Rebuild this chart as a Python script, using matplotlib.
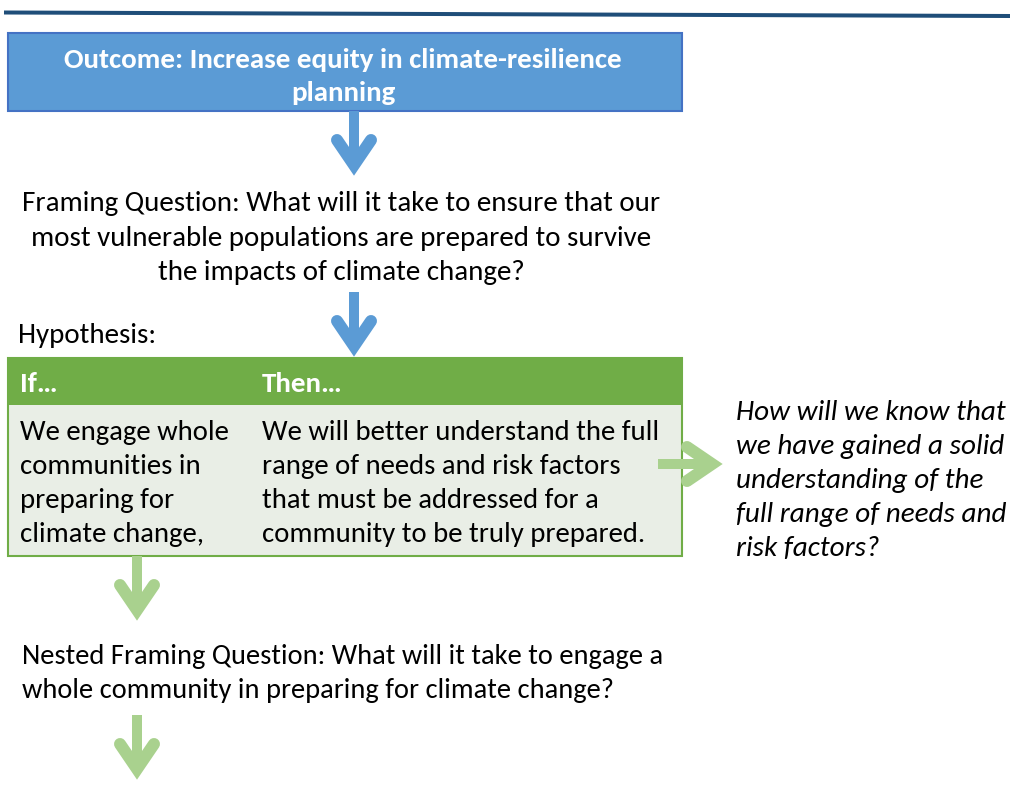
import matplotlib
matplotlib.use("Agg")
import matplotlib.pyplot as plt
from matplotlib import font_manager
from matplotlib.patches import Rectangle

# ---------------- content ----------------
outcome_lines = ["Outcome: Increase equity in climate-resilience", "planning"]
framing_lines = ["Framing Question: What will it take to ensure that our",
                 "most vulnerable populations are prepared to survive",
                 "the impacts of climate change?"]
hypothesis_label = "Hypothesis:"
header_labels = ["If…", "Then…"]
if_lines = ["We engage whole", "communities in", "preparing for", "climate change,"]
then_lines = ["We will better understand the full", "range of needs and risk factors",
              "that must be addressed for a", "community to be truly prepared."]
question_lines = ["How will we know that", "we have gained a solid",
                  "understanding of the", "full range of needs and", "risk factors?"]
nested_lines = ["Nested Framing Question: What will it take to engage a",
                "whole community in preparing for climate change?"]

# ---------------- style ----------------
W, H = 1010, 789
BLUE_FILL = "#5B9BD5"
BLUE_EDGE = "#4472C4"
BLUE_ARROW = "#5B9BD5"
GREEN_HEAD = "#70AD47"
GREEN_BODY = "#E9EEE6"
GREEN_ARROW = "#A9D18E"
DARK_LINE = "#1F4E79"

avail = {f.name for f in font_manager.fontManager.ttflist}
FONT = next((f for f in ["Carlito", "Lato", "Open Sans", "DejaVu Sans"] if f in avail), "DejaVu Sans")

fig = plt.figure(figsize=(W / 100, H / 100), dpi=100)
ax = fig.add_axes([0, 0, 1, 1])
ax.set_xlim(0, W)
ax.set_ylim(H, 0)
ax.axis("off")
renderer = fig.canvas.get_renderer()

PX = 0.72  # points per pixel at dpi 100


def fit_size(s, target, weight="normal", style="normal"):
    t = ax.text(0, 0, s, fontsize=20, family=FONT, weight=weight, style=style)
    w = t.get_window_extent(renderer).width
    t.remove()
    return 20 * target / w


def lines(xs, ys, strs, size, ha="left", color="black", weight="normal", style="normal"):
    for y, s in zip(ys, strs):
        ax.text(xs, y, s, fontsize=size, family=FONT, ha=ha, va="baseline",
                color=color, weight=weight, style=style)


def down_arrow(x, y0, color):
    ax.plot([x, x], [y0, y0 + 50], color=color, lw=10 * PX, solid_capstyle="butt")
    ax.plot([x - 17, x, x + 17], [y0 + 29, y0 + 54, y0 + 29], color=color,
            lw=12 * PX, solid_capstyle="round", solid_joinstyle="miter")


def right_arrow(x0, y, color):
    ax.plot([x0, x0 + 50], [y, y], color=color, lw=10 * PX, solid_capstyle="butt")
    ax.plot([x0 + 29, x0 + 54, x0 + 29], [y - 17, y, y + 17], color=color,
            lw=12 * PX, solid_capstyle="round", solid_joinstyle="miter")


# top rule
ax.plot([4, 1010], [12.5, 16], color=DARK_LINE, lw=4 * PX, solid_capstyle="butt")

# outcome box
ax.add_patch(Rectangle((8, 33), 674, 78, facecolor=BLUE_FILL, edgecolor=BLUE_EDGE, lw=1.5))
s_bold = fit_size(outcome_lines[0], 559, weight="bold")
lines(343, [68, 101], outcome_lines, s_bold, ha="center", color="white", weight="bold")

# arrows (blue)
down_arrow(354, 111, BLUE_ARROW)
down_arrow(354, 292, BLUE_ARROW)

# framing question
s_reg = fit_size(framing_lines[0], 638)
lines(341, [211, 246, 280], framing_lines, s_reg, ha="center")

# hypothesis
lines(18, [343], [hypothesis_label], s_reg)

# table
ax.add_patch(Rectangle((8, 405), 674, 151, facecolor=GREEN_BODY, edgecolor="none"))
ax.add_patch(Rectangle((8, 358), 674, 47, facecolor=GREEN_HEAD, edgecolor="none"))
ax.add_patch(Rectangle((8, 358), 674, 198, facecolor="none", edgecolor=GREEN_HEAD, lw=1.5))
lines(20, [392], [header_labels[0]], s_bold, color="white", weight="bold")
lines(262, [392], [header_labels[1]], s_bold, color="white", weight="bold")
s_body = fit_size(then_lines[0], 397)
body_y = [440, 474, 508, 542]
lines(20, body_y, if_lines, s_body)
lines(262, body_y, then_lines, s_body)

# right arrow & italic question
right_arrow(658, 464, GREEN_ARROW)
s_it = fit_size(question_lines[0], 269, style="italic")
lines(736, [420, 454, 488, 522, 556], question_lines, s_it, style="italic")

# green down arrows
down_arrow(137, 556, GREEN_ARROW)
s_nest = fit_size(nested_lines[0], 641)
lines(22, [664, 698], nested_lines, s_nest)
down_arrow(137, 715, GREEN_ARROW)

fig.savefig("out.png", dpi=100)
